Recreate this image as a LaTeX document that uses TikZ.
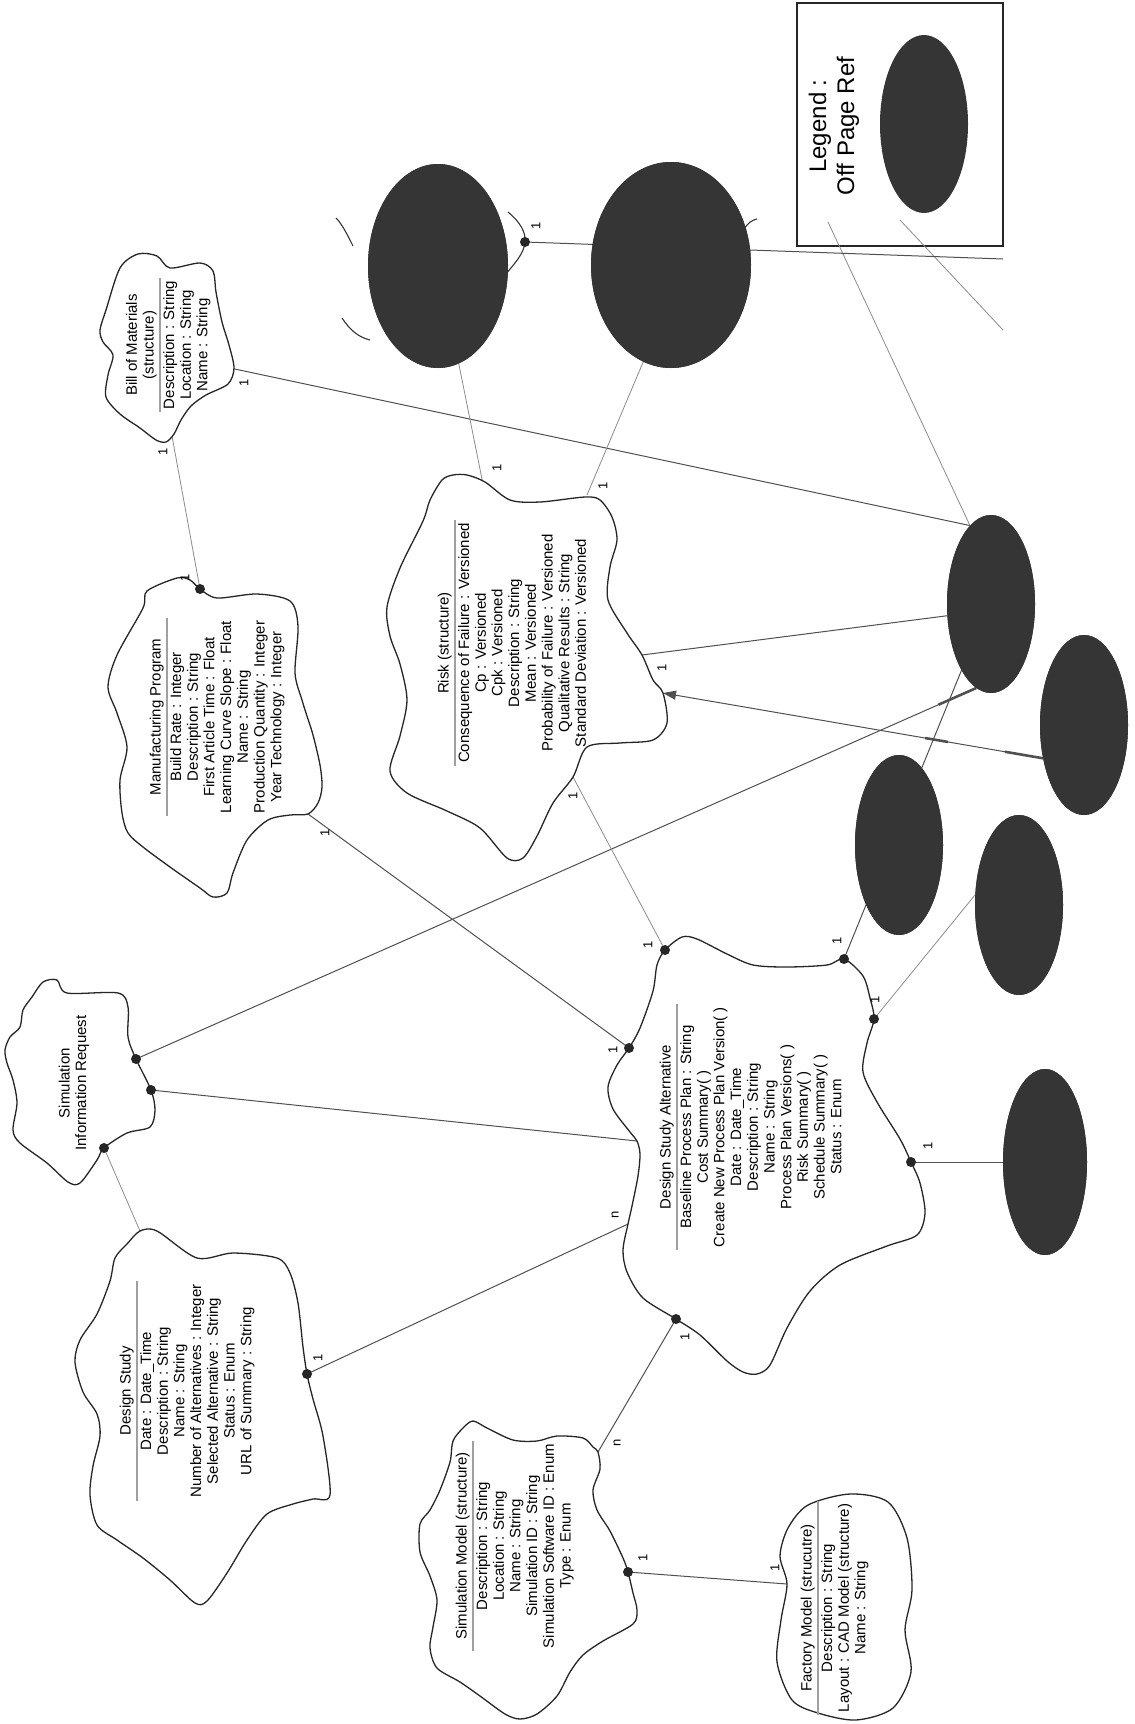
\documentclass[tikz,border=0pt]{standalone}
\usepackage{fontspec}
\setmainfont{Liberation Sans}
\usetikzlibrary{shapes.geometric,arrows.meta,calc}
\definecolor{offgray}{HTML}{353535}
\definecolor{linegray}{HTML}{505050}
\definecolor{sepgray}{HTML}{A0A0A0}
\newcommand\classbox[4]{%
  \node[ctitle,anchor=south] (#1t) at (#2) {#3};
  \node[cbody,anchor=north] (#1b) at (#2) {#4};
  \draw[sepline] (#1b.north west) -- (#1b.north east);}
\begin{document}
\begin{tikzpicture}[x=1pt,y=-1pt,
  cloudline/.style={draw=black!85,line width=1.3pt,fill=white,line join=round},
  fragline/.style={draw=black!80,line width=1.1pt},
  conn/.style={draw=linegray,line width=1pt},
  connlight/.style={draw=black!45,line width=0.8pt},
  thickseg/.style={draw=linegray,line width=2.6pt},
  offref/.style={ellipse,fill=offgray,draw=none,inner sep=0pt},
  dotmark/.style={circle,fill=black!85,inner sep=0pt,minimum size=10pt},
  mult/.style={rotate=90,font=\fontsize{13}{13}\selectfont,inner sep=0pt},
  ctitle/.style={rotate=90,font=\fontsize{15}{16.7}\selectfont,align=center,inner sep=3pt},
  cbody/.style={rotate=90,font=\fontsize{15}{16.7}\selectfont,align=center,inner sep=3pt},
  sepline/.style={draw=sepgray,line width=1.2pt}]
\fill[white] (0,0) rectangle (1135,1724);
\useasboundingbox (0,0) rectangle (1135,1724);

% ---------- off page reference ellipses (positions) ----------
\node[offref,minimum width=140pt,minimum height=204pt] (et1) at (438,266) {};
\node[offref,minimum width=160pt,minimum height=206pt] (et2) at (671,265) {};
\node[offref,minimum width=88pt,minimum height=178pt] (ea) at (991,604) {};
\node[offref,minimum width=88pt,minimum height=180pt] (eb) at (1084,725) {};
\node[offref,minimum width=88pt,minimum height=180pt] (ec) at (899,845) {};
\node[offref,minimum width=88pt,minimum height=180pt] (ed) at (1019,905) {};
\node[offref,minimum width=84pt,minimum height=186pt] (ee) at (1045,1162) {};

% ---------- connection points ----------
\coordinate (bomB) at (172,436);
\coordinate (bomR) at (230,368);
\coordinate (mpD) at (200,589);
\coordinate (mpB) at (308,814);
\coordinate (t1D) at (525,242);
\coordinate (offR) at (1003,259);
\coordinate (l1s) at (828,222);
\coordinate (l2s) at (900,220);
\coordinate (l2e) at (1003,330);
\coordinate (rT1) at (483,484);
\coordinate (rT2) at (587,495);
\coordinate (rR) at (642,655);
\coordinate (rA) at (663,693);
\coordinate (rB) at (573,777);
\coordinate (sirD1) at (136,1059);
\coordinate (sirD2) at (151,1090);
\coordinate (sirD3) at (104,1148);
\coordinate (dsT) at (140,1231);
\coordinate (dsD) at (307,1374);
\coordinate (aD0) at (665,950);
\coordinate (aD1) at (629,1048);
\coordinate (aD2) at (844,959);
\coordinate (aD3) at (874,1019);
\coordinate (aD4) at (911,1162);
\coordinate (aD5) at (676,1319);
\coordinate (aL1) at (637,1141);
\coordinate (aL2) at (628,1224);
\coordinate (smT) at (598,1452);
\coordinate (smD) at (628,1572);
\coordinate (fmL) at (787,1584);

% ---------- legend box ----------
\draw[line width=2.6pt,draw=black!85] (797,3) rectangle (1003,246);

% ---------- connectors ----------
\draw[connlight] (bomB) -- (mpD);
\draw[conn] (bomR) -- (ea.105);
\draw[connlight] (l1s) -- (ea.105);
\draw[connlight] (l2s) -- (l2e);
\draw[conn] (t1D) -- (offR);
\draw[connlight] (et1.282) -- (rT1);
\draw[connlight] (et2.254) -- (rT2);
\draw[conn] (rR) -- (ea.195);
\draw[conn,-{Triangle[length=13pt,width=9pt]}] (eb.219) -- (rA);
\draw[thickseg] ($(eb.219)!0!(rA)$) -- ($(eb.219)!0.1!(rA)$);
\draw[thickseg] ($(eb.219)!0.25!(rA)$) -- ($(eb.219)!0.31!(rA)$);
\draw[conn] (sirD1) -- (ea.260);
\draw[thickseg] ($(ea.260)!0.0!(sirD1)$) -- ($(ea.260)!0.045!(sirD1)$);
\draw[conn] (sirD2) -- (aL1);
\draw[connlight] (sirD3) -- (dsT);
\draw[conn] (mpB) -- (aD1);
\draw[connlight] (rB) -- (aD0);
\draw[conn] (aD2) -- (ea.246);
\draw[connlight] (aD3) -- (ed.167);
\draw[conn] (aD4) -- (ee.180);
\draw[conn] (dsD) -- (aL2);
\draw[conn] (smT) -- (aD5);
\draw[conn] (smD) -- (fmL);

% ---------- fragments of hidden clouds ----------
\draw[fragline] (336,218) .. controls (342,224) and (347,234) .. (353,246);
\draw[fragline] (342,318) .. controls (350,330) and (358,337) .. (370,340);
\draw[fragline] (508,212) .. controls (520,222) and (526,232) .. (t1D) .. controls (524,254) and (514,264) .. (506,274);
\draw[fragline] (744,229) .. controls (748,223) and (752,220) .. (757,219);

% ---------- ellipses on top of the connectors ----------
\foreach \e/\w/\h in {et1/140/204,et2/160/206,ea/88/178,eb/88/180,ec/88/180,ed/88/180,ee/84/186}
  \fill[offgray] (\e.center) ellipse [x radius=\w/2, y radius=\h/2];

% ---------- clouds ----------
% Bill of Materials
\draw[cloudline] plot[smooth cycle,tension=0.5] coordinates {
 (100,330) (106,310) (120,268) (138,254) (157,256) (170,268) (200,263) (213,271) (216,292)
 (222,322) (229,345) (234,368) (228,384) (206,395) (191,406) (181,420) (174,434) (166,442)
 (156,440) (140,428) (120,414) (106,397) (108,375) (113,355) (103,342)};
% Manufacturing Program
\draw[cloudline] plot[smooth cycle,tension=0.5] coordinates {
 (117,655) (143,608) (147,591) (177,578) (190,580) (200,589) (217,598) (257,594) (290,601)
 (298,626) (295,673) (302,700) (306,713) (313,735) (320,765) (322,787) (318,803) (308,814)
 (290,815) (268,820) (247,840) (233,873) (227,893) (213,897) (200,888) (170,867) (143,847)
 (128,833) (122,813) (120,780) (127,747) (117,713) (108,687)};
% Risk
\draw[cloudline] plot[smooth cycle,tension=0.5] coordinates {
 (453,475) (467,475) (485,482) (510,500) (540,502) (585,497) (600,500) (612,517) (617,540)
 (610,567) (608,600) (627,633) (642,655) (653,680) (663,693) (667,723) (653,740) (620,743)
 (587,747) (573,777) (553,803) (537,836) (523,858) (507,858) (480,828) (447,811) (407,793)
 (390,771) (400,736) (407,700) (400,664) (390,636) (387,607) (400,568) (423,521) (430,500) (442,480)};
% Simulation Information Request
\draw[cloudline] plot[smooth cycle,tension=0.5] coordinates {
 (43,982) (57,980) (67,993) (118,993) (128,1007) (128,1037) (136,1059) (151,1090) (155,1110)
 (150,1127) (127,1133) (104,1148) (97,1160) (80,1183) (68,1182) (47,1163) (20,1143) (13,1130)
 (17,1103) (13,1080) (7,1063) (5,1050) (10,1037) (20,1027) (23,1010) (32,997)};
% Design Study
\draw[cloudline] plot[smooth cycle,tension=0.5] coordinates {
 (140,1231) (157,1231) (197,1258) (233,1253) (277,1258) (290,1273) (298,1303) (303,1347)
 (307,1374) (313,1399) (323,1436) (330,1495) (313,1499) (293,1504) (267,1514) (247,1540)
 (227,1573) (207,1601) (195,1603) (170,1580) (143,1558) (117,1540) (97,1525) (90,1495)
 (93,1466) (100,1436) (97,1414) (83,1392) (75,1362) (80,1340) (97,1314) (110,1281) (115,1258) (127,1244)};
% Design Study Alternative
\draw[cloudline] plot[smooth cycle,tension=0.5] coordinates {
 (665,950) (682,937) (697,939) (727,954) (753,965) (787,967) (827,965) (844,959) (863,976)
 (870,998) (874,1019) (867,1043) (863,1072) (877,1102) (900,1139) (911,1162) (920,1183)
 (925,1213) (917,1235) (887,1246) (840,1265) (810,1291) (787,1328) (770,1365) (757,1374)
 (743,1372) (727,1361) (700,1335) (676,1319) (643,1298) (627,1272) (623,1250) (628,1224)
 (632,1206) (638,1176) (640,1154) (637,1141) (630,1132) (613,1109) (608,1087) (617,1065)
 (629,1048) (640,1028) (653,991) (657,965)};
% Simulation Model
\draw[cloudline] plot[smooth cycle,tension=0.5] coordinates {
 (473,1421) (487,1428) (513,1440) (537,1441) (557,1436) (583,1438) (593,1447) (598,1452)
 (600,1469) (593,1490) (597,1510) (610,1531) (623,1558) (628,1572) (633,1593) (637,1610)
 (633,1624) (603,1641) (583,1655) (570,1672) (557,1696) (537,1714) (520,1719) (505,1714)
 (480,1696) (460,1682) (437,1668) (430,1648) (433,1627) (437,1600) (430,1576) (420,1552)
 (420,1524) (430,1510) (440,1490) (450,1462) (453,1441) (463,1428)};
% Factory Model
\draw[cloudline] plot[smooth cycle,tension=0.5] coordinates {
 (788,1528) (808,1505) (850,1494) (888,1502) (907,1538) (912,1590) (905,1630) (911,1672)
 (893,1708) (856,1720) (818,1713) (792,1700) (777,1662) (781,1620) (787,1584) (780,1556)};

% ---------- dots ----------
\foreach \p in {mpD,t1D,sirD1,sirD2,sirD3,dsD,aD0,aD1,aD2,aD3,aD4,aD5,smD}
  \node[dotmark] at (\p) {};

% ---------- class texts ----------
\classbox{bom}{160,345}{Bill of Materials\\(structure)}{Description : String\\Location : String\\Name : String}
\classbox{mp}{167,717}{Manufacturing Program}{Build Rate : Integer\\Description : String\\First Article Time : Float\\Learning Curve Slope : Float\\Name : String\\Production Quantity : Integer\\Year Technology : Integer}
\classbox{risk}{455,643}{Risk (structure)}{Consequence of Failure : Versioned\\Cp : Versioned\\Cpk : Versioned\\Description : String\\Mean : Versioned\\Probability of Failure : Versioned\\Qualitative Results : String\\Standard Deviation : Versioned}
\classbox{dsa}{677,1127}{Design Study Alternative}{Baseline Process Plan : String\\Cost Summary( )\\Create New Process Plan Version( )\\Date : Date\_Time\\Description : String\\Name : String\\Process Plan Versions( )\\Risk Summary( )\\Schedule Summary( )\\Status : Enum}
\classbox{ds}{137,1391}{Design Study}{Date : Date\_Time\\Description : String\\Name : String\\Number of Alternatives : Integer\\Selected Alternative : String\\Status : Enum\\URL of Summary : String}
\classbox{sm}{473,1546}{Simulation Model (structure)}{Description : String\\Location : String\\Name : String\\Simulation ID : String\\Simulation Software ID : Enum\\Type : Enum}
\classbox{fm}{818,1608}{Factory Model (strucutre)}{Description : String\\Layout : CAD Model (structure)\\Name : String}
\node[ctitle] (sir) at (74,1083) {Simulation\\Information Request};

% ---------- legend ----------
\node[rotate=90,font=\fontsize{24}{28}\selectfont,align=center] (legtext) at (834,126) {Legend :\\Off Page Ref};
\node[offref,minimum width=88pt,minimum height=178pt] (legell) at (924,124) {};

% ---------- multiplicities ----------
\foreach \x/\y/\t in {163/452/1,185/578/1,244/383/1,536/226/1,497/468/1,603/486/1,662/668/1,
  573/796/1,648/945/1,325/833/1,613/1050/1,837/941/1,875/1000/1,928/1146/1,318/1358/1,
  615/1215/n,617/1443/n,685/1337/1,643/1558/1,775/1568/1}
  \node[mult] at (\x,\y) {\t};
\end{tikzpicture}
\end{document}
